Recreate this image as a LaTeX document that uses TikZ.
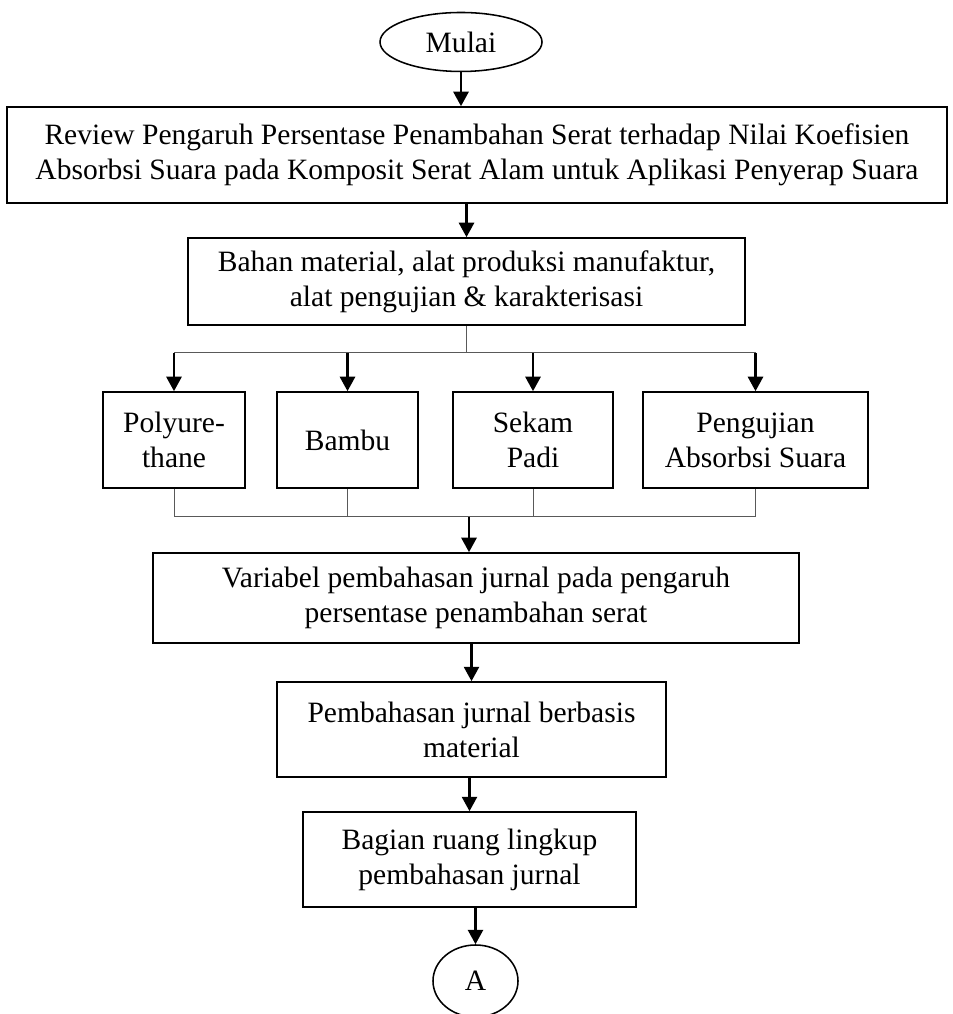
\documentclass[tikz,border=0pt]{standalone}
\usepackage{fontspec}
\setmainfont{Liberation Serif}
\usetikzlibrary{shapes.geometric,arrows.meta}

\begin{document}
\begin{tikzpicture}[
  font=\fontsize{21pt}{25pt}\selectfont,
  box/.style={draw, line width=1.2pt, align=center, inner sep=0pt},
  term/.style={draw, ellipse, line width=1.1pt, inner sep=0pt},
  arr/.style={line width=1.5pt, -{Triangle[length=0.36cm, width=0.38cm]}},
  branch/.style={draw=black!65, line width=0.7pt}
]
\useasboundingbox (0,0) rectangle (23.8,25.35);

% Start and end terminals
\node[term, minimum width=4.05cm, minimum height=1.475cm] (mulai) at (11.525,24.3) {Mulai};
\node[term, minimum width=2.125cm, minimum height=1.8cm] (a) at (11.8875,0.825) {A};

% Main boxes
\node[box, minimum width=23.5cm, minimum height=2.4cm] (review) at (11.925,21.475)
  {Review Pengaruh Persentase Penambahan Serat terhadap Nilai Koefisien\\Absorbsi Suara pada Komposit Serat Alam untuk Aplikasi Penyerap Suara};
\node[box, minimum width=13.925cm, minimum height=2.175cm] (bahan) at (11.6625,18.3125)
  {Bahan material, alat produksi manufaktur,\\alat pengujian \& karakterisasi};

% The four branches
\node[box, minimum width=3.55cm, minimum height=2.4cm] (poly) at (4.35,14.35) {Polyure-\\thane};
\node[box, minimum width=3.525cm, minimum height=2.4cm] (bambu) at (8.6875,14.35) {Bambu};
\node[box, minimum width=4.0cm, minimum height=2.4cm] (sekam) at (13.325,14.35) {Sekam\\Padi};
\node[box, minimum width=5.625cm, minimum height=2.4cm] (uji) at (18.8875,14.35) {Pengujian\\Absorbsi Suara};

\node[box, minimum width=16.15cm, minimum height=2.25cm] (variabel) at (11.9,10.4)
  {Variabel pembahasan jurnal pada pengaruh\\persentase penambahan serat};
\node[box, minimum width=9.725cm, minimum height=2.375cm] (bahas) at (11.7875,7.1125)
  {Pembahasan jurnal berbasis\\material};
\node[box, minimum width=8.325cm, minimum height=2.375cm] (bagian) at (11.7375,3.8625)
  {Bagian ruang lingkup\\pembahasan jurnal};

% Split and merge points
\coordinate (split) at (11.6625,16.525);
\coordinate (merge) at (11.725,12.425);

% Arrows down the main line
\draw[arr] (mulai.south) -- (mulai.south |- review.north);
\draw[arr] (bahan.north |- review.south) -- (bahan.north);
\draw[arr] (merge) -- (merge |- variabel.north);
\draw[arr] (bahas.north |- variabel.south) -- (bahas.north);
\draw[arr] (bagian.north |- bahas.south) -- (bagian.north);
\draw[arr] (a.north |- bagian.south) -- (a.north);

% Branching out of the materials box
\draw[branch] (bahan.south) -- (split);
\draw[branch] (split -| poly.north) -- (split -| uji.north);
\foreach \n in {poly,bambu,sekam,uji}
  \draw[arr] (split -| \n.north) -- (\n.north);

% Joining back into one line
\foreach \n in {poly,bambu,sekam,uji}
  \draw[branch] (\n.south) -- (merge -| \n.south);
\draw[branch] (merge -| poly.south) -- (merge -| uji.south);

\end{tikzpicture}
\end{document}
